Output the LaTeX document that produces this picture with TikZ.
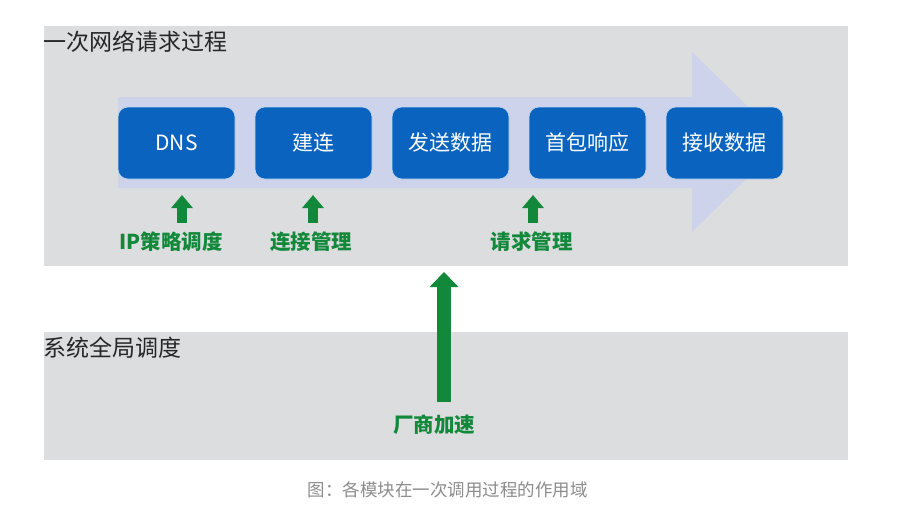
\documentclass[tikz,border=0pt]{standalone}
\usepackage{fontspec}
\setmainfont{Noto Sans CJK SC}
\usepackage{tikz}
\usetikzlibrary{
  arrows.meta,              % Triangle 箭头
  positioning               % 节点相对定位
}
\definecolor{bandgray}{HTML}{DCDDDF}
\definecolor{flowlav}{HTML}{CCD3EA}
\definecolor{boxblue}{HTML}{0A64BF}
\definecolor{upgreen}{HTML}{12893A}
\tikzset{
  band/.style={
    fill=bandgray,
    draw=none
  },
  stage/.style={
    rectangle,
    rounded corners=10pt,
    fill=boxblue,
    draw=white!75!boxblue,
    line width=0.6pt,
    minimum width=117pt,
    minimum height=72pt,
    text=white,
    font=\fontsize{21}{24}\selectfont
  },
  title text/.style={
    anchor=west,
    inner sep=0pt,
    text=black!85,
    font=\fontsize{23}{26}\selectfont
  },
  scope label/.style={
    inner sep=0pt,
    text=upgreen,
    font=\bfseries\fontsize{20.5}{23}\selectfont
  },
  small up/.style={
    upgreen,
    line width=10pt,
    -{Triangle[width=21pt,length=13pt]}
  },
  big up/.style={
    upgreen,
    line width=14pt,
    -{Triangle[width=28pt,length=15pt]}
  },
  caption text/.style={
    inner sep=0pt,
    text=black!45,
    font=\fontsize{17.5}{20}\selectfont
  }
}

\begin{document}
\begin{tikzpicture}[x=1pt, y=-1pt, node distance=19.4pt] % 以像素为单位，y 轴向下

  \useasboundingbox (0,0) rectangle (920,517); % 固定画布大小

  % 两条灰色背景带
  \fill[band] (44,26) rectangle (848,266); % 上方：一次网络请求过程
  \fill[band] (44,332) rectangle (848,460); % 下方：系统全局调度

  % 淡紫色大箭头（流程方向）
  \fill[flowlav] (118,97) -- (692,97) -- (692,52) -- (784,142) -- (692,232) -- (692,188) -- (118,188) -- cycle;

  % 标题
  \node[title text] (reqtitle) at (43,42) {一次网络请求过程};
  \node[title text] (systitle) at (43,348) {系统全局调度};

  % 五个阶段
  \node[stage] (dns) at (176.5,143) {DNS};
  \node[stage, right=of dns] (conn) {建连};
  \node[stage, right=of conn] (send) {发送数据};
  \node[stage, right=of send] (first) {首包响应};
  \node[stage, right=of first] (recv) {接收数据};

  % 各模块的作用点
  \coordinate (ipTip) at (182,195);
  \coordinate (connTip) at (313,195);
  \coordinate (reqTip) at (533,195);
  \coordinate (venTip) at (444,272);

  \node[scope label] (iplbl) at (171,242) {IP策略调度};
  \node[scope label] (connlbl) at (311,242) {连接管理};
  \node[scope label] (reqlbl) at (531.5,242) {请求管理};
  \node[scope label] (venlbl) at (434,425) {厂商加速};

  \draw[small up] ([yshift=9pt]ipTip |- iplbl.north) -- (ipTip);
  \draw[small up] ([yshift=9pt]connTip |- connlbl.north) -- (connTip);
  \draw[small up] ([yshift=9pt]reqTip |- reqlbl.north) -- (reqTip);
  \draw[big up] ([yshift=12.5pt]venTip |- venlbl.north) -- (venTip);

  % 图注
  \node[caption text] (cap) at (447.5,490) {图：各模块在一次调用过程的作用域};

\end{tikzpicture}
\end{document}
